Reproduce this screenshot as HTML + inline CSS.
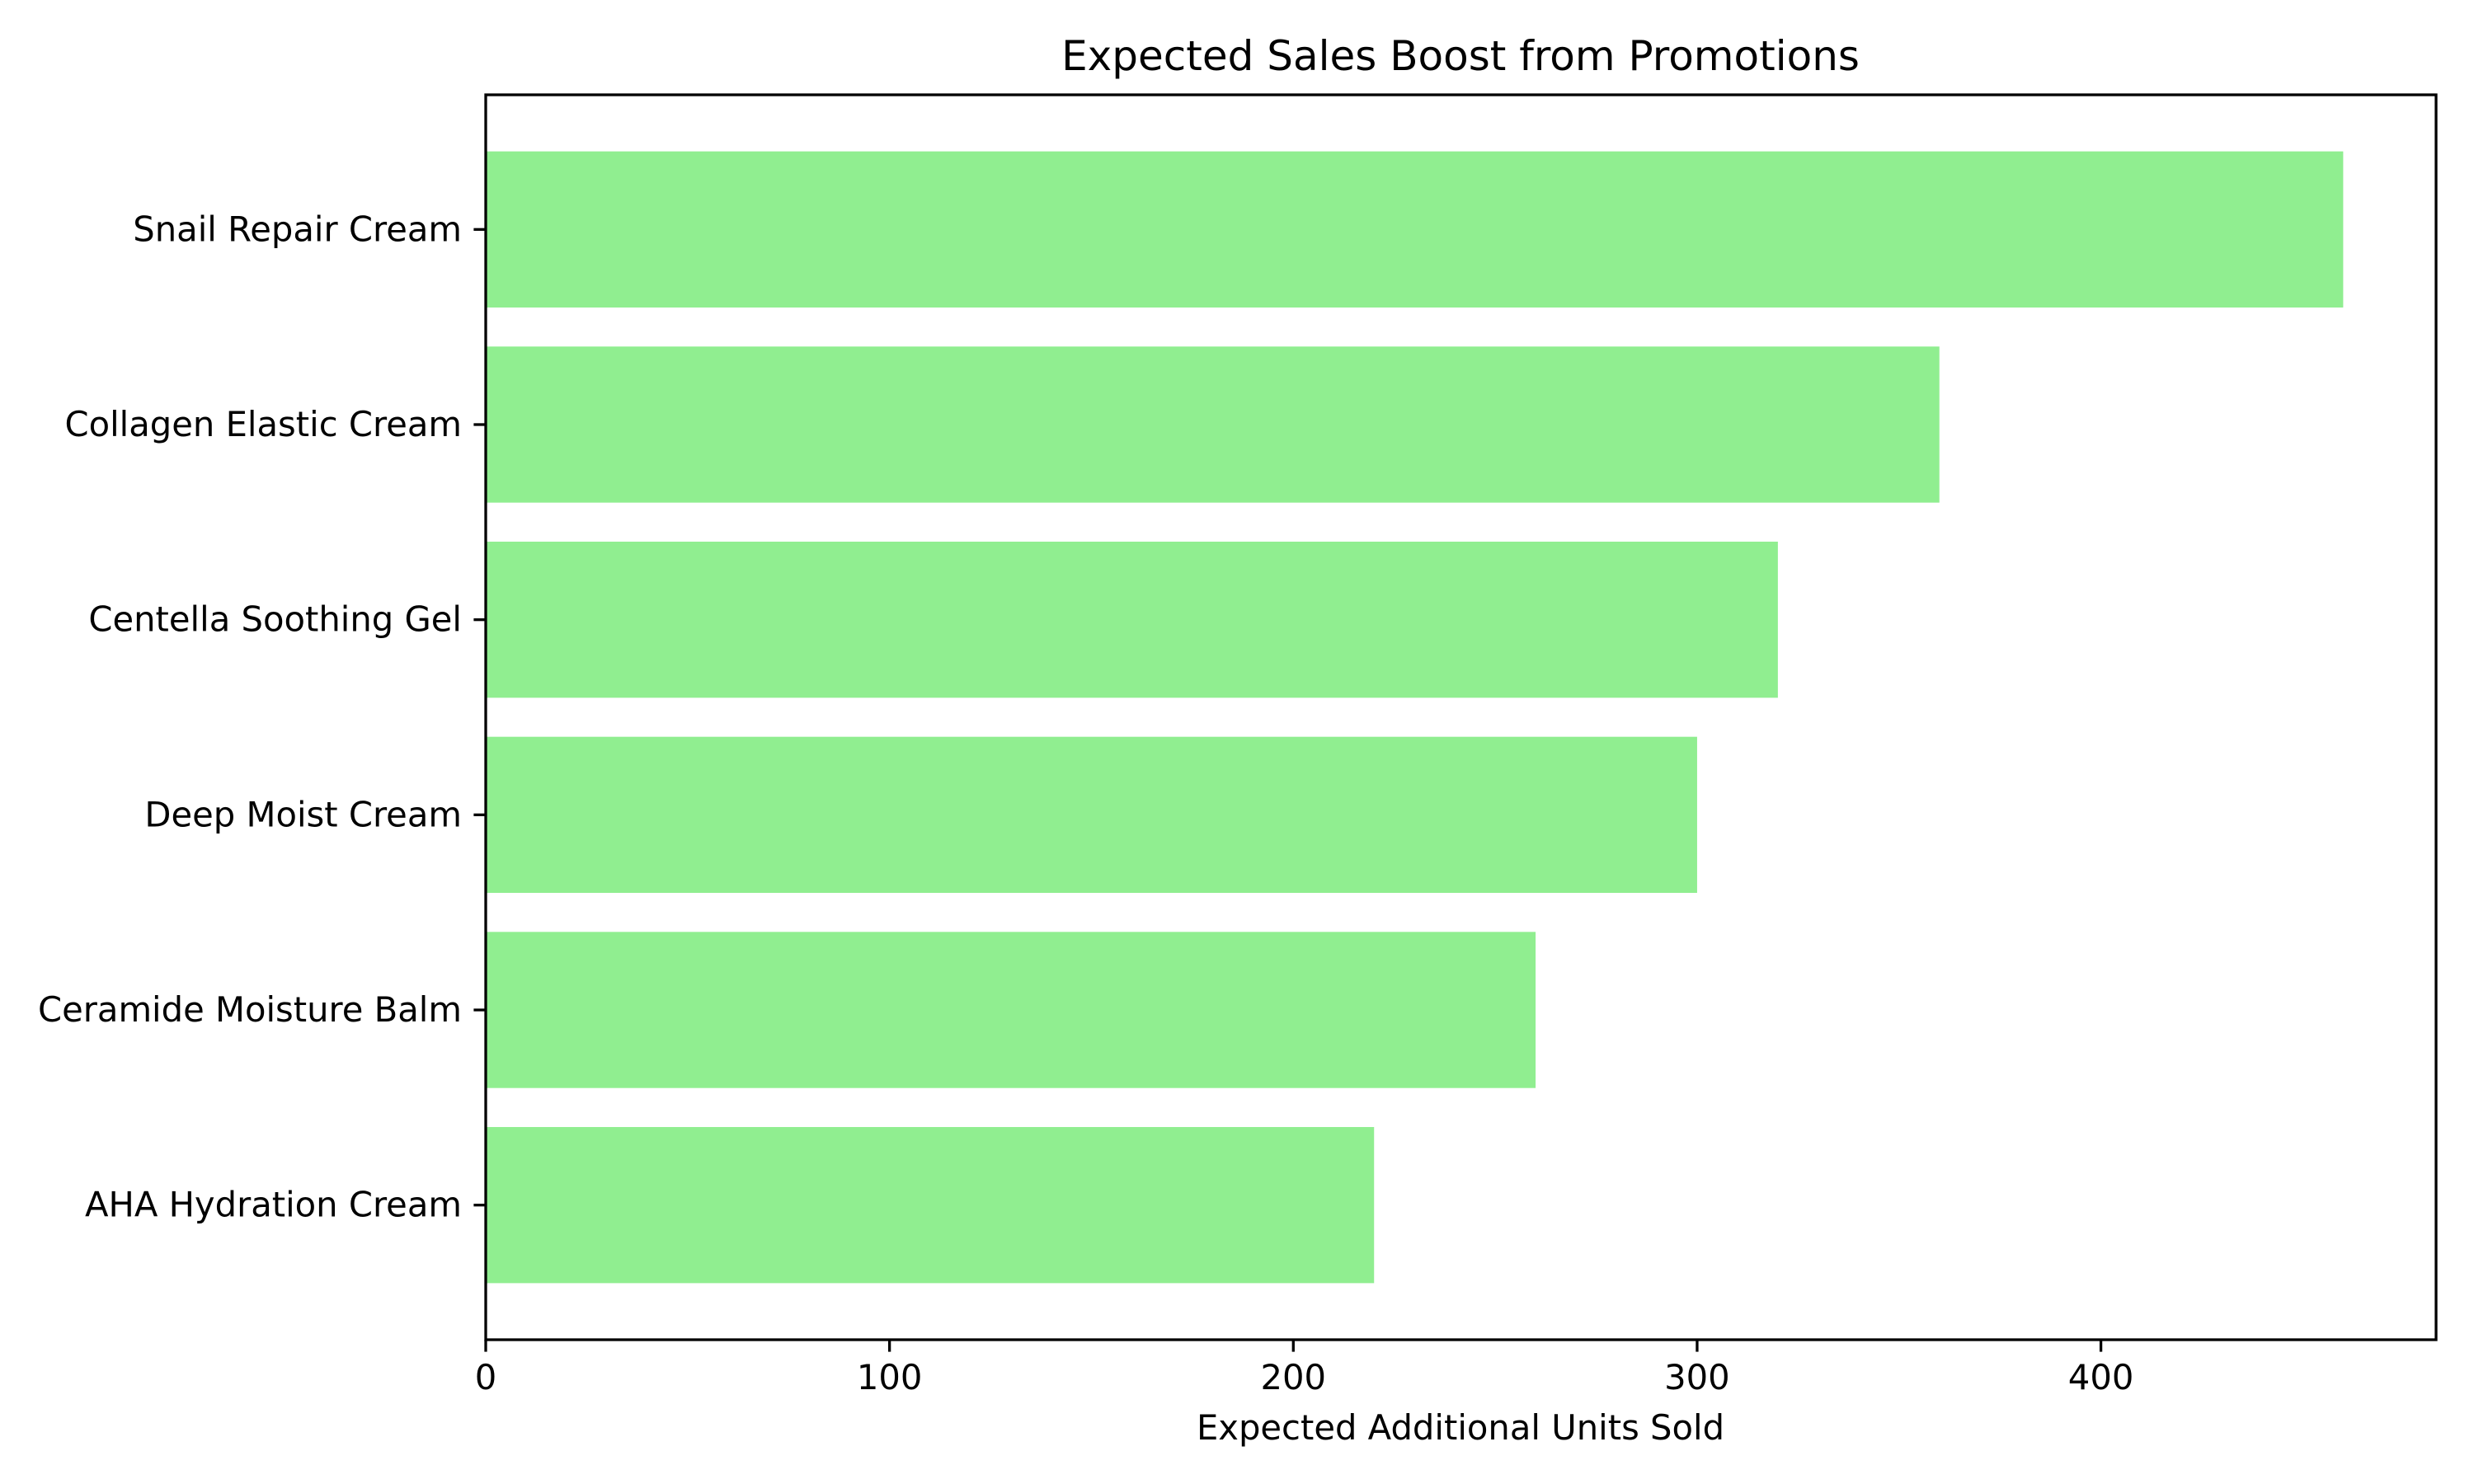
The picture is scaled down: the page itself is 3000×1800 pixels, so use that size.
<!DOCTYPE html>
<html><head><meta charset="utf-8"><style>
html,body{margin:0;padding:0;background:#fff;}
svg{display:block;font-family:"DejaVu Sans","Liberation Sans",sans-serif;}
</style></head><body>
<svg id="chart" width="3000" height="1800" viewBox="0 0 3000 1800">
<rect width="3000" height="1800" fill="#fff"/>
<text x="1771" y="85" font-size="50" text-anchor="middle">Expected Sales Boost from Promotions</text>
<g id="bars"></g>
<g id="axes"></g>
<text x="1771" y="1746" font-size="41.7" text-anchor="middle">Expected Additional Units Sold</text>
</svg>
<script>
const categories = ["AHA Hydration Cream","Ceramide Moisture Balm","Deep Moist Cream","Centella Soothing Gel","Collagen Elastic Cream","Snail Repair Cream"];
const values = [220,260,300,320,360,460];
const xTicks = [0,100,200,300,400];

const L=589,R=2954,T=115,B=1625;
const xmax=Math.max(...values)*1.05;
const x=v=>L+(v/xmax)*(R-L);
const n=categories.length;
const ymin=-0.4-0.05*(n-0.2), ymax=n-0.6+0.05*(n-0.2);
const y=v=>B-(v-ymin)/(ymax-ymin)*(B-T);
const NS="http://www.w3.org/2000/svg";
const bars=document.getElementById('bars'), axes=document.getElementById('axes');
function mk(tag,attrs,parent){const e=document.createElementNS(NS,tag);for(const k in attrs)e.setAttribute(k,attrs[k]);parent.appendChild(e);return e;}
categories.forEach((c,i)=>{
  const r=mk('rect',{x:x(0),y:y(i+0.4),width:x(values[i])-x(0),height:y(i-0.4)-y(i+0.4),fill:'#90ee90'},bars);
  
  
  const t=mk('line',{x1:L,x2:L-14.6,y1:y(i),y2:y(i),stroke:'#000','stroke-width':3.3},axes);
  
  
  const lb=mk('text',{x:L-29,y:y(i)+14,'font-size':41.7,'text-anchor':'end'},axes);
  lb.textContent=c;
  
  
});
xTicks.forEach(v=>{
  const t=mk('line',{x1:x(v),x2:x(v),y1:B,y2:B+14.6,stroke:'#000','stroke-width':3.3},axes);
  
  
  const lb=mk('text',{x:x(v),y:B+60,'font-size':41.7,'text-anchor':'middle'},axes);
  lb.textContent=v;
  
  
});
const fr=mk('rect',{x:L,y:T,width:R-L,height:B-T,fill:'none',stroke:'#000','stroke-width':3.3},axes);


</script>
</body></html>
